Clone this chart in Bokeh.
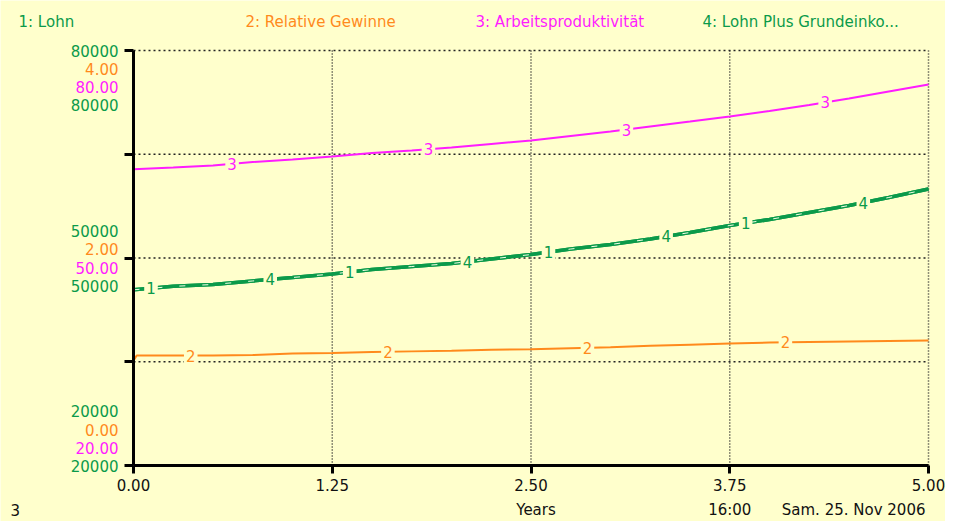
from bokeh.plotting import figure
from bokeh.models import Range1d, FixedTicker, Label
from bokeh.embed import file_html
from bokeh.resources import INLINE
import numpy as np

# ---------------- data ----------------
years = [0.0, 0.25, 0.5, 0.75, 1.0, 1.25, 1.5, 1.75, 2.0, 2.25, 2.5,
         2.75, 3.0, 3.25, 3.5, 3.75, 4.0, 4.25, 4.5, 4.75, 5.0]
lohn = [45400, 45900, 46170, 46680, 47180, 47690, 48340, 48770, 49200, 49860, 50500,
        51300, 51950, 52750, 53690, 54700, 55570, 56580, 57590, 58750, 59980]
years_gewinne = [0.0, 0.02, 0.25, 0.5, 0.75, 1.0, 1.25, 1.5, 1.75, 2.0, 2.25, 2.5,
                 2.75, 3.0, 3.25, 3.5, 3.75, 4.0, 4.25, 4.5, 4.75, 5.0]
relative_gewinne = [1.01, 1.06, 1.06, 1.06, 1.065, 1.08, 1.085, 1.095, 1.10, 1.105, 1.115, 1.12,
                    1.13, 1.14, 1.155, 1.165, 1.175, 1.185, 1.19, 1.195, 1.20, 1.205]
arbeitsproduktivitaet = [62.84, 63.08, 63.37, 63.88, 64.24, 64.67, 65.18, 65.54, 65.97, 66.48, 66.99,
                         67.64, 68.29, 69.01, 69.73, 70.46, 71.25, 72.12, 73.06, 74.07, 75.08]
lohn_plus_grundeinkommen = [45400, 45900, 46170, 46680, 47180, 47690, 48340, 48770, 49200, 49860, 50500,
                            51300, 51950, 52750, 53690, 54700, 55570, 56580, 57590, 58750, 59980]

series_names = ["1: Lohn", "2: Relative Gewinne", "3: Arbeitsproduktivität", "4: Lohn Plus Grundeinko..."]

x_ticks = [0.0, 1.25, 2.5, 3.75, 5.0]
x_tick_labels = ["0.00", "1.25", "2.50", "3.75", "5.00"]
lohn_axis = [20000, 50000, 80000]
gewinne_axis = [0.0, 2.0, 4.0]
produktivitaet_axis = [20.0, 50.0, 80.0]
y_grid = [20000, 35000, 50000, 65000, 80000]

# positions (in years) of the series numbers drawn on each line
label_years_1 = [0.11, 1.36, 2.61, 3.85]
label_years_2 = [0.36, 1.60, 2.855, 4.10]
label_years_3 = [0.62, 1.855, 3.10, 4.35]
label_years_4 = [0.86, 2.10, 3.35, 4.59]

footer_left = "3"
footer_unit = "Years"
footer_time = "16:00"
footer_date = "Sam. 25. Nov 2006"

# ---------------- layout / styles ----------------
W, H = 945, 521
PLOT_L, PLOT_R, PLOT_T, PLOT_B = 133, 928, 50, 465   # plot box inside the canvas (px)
BG = "#FFFFCC"
GREEN = "#0B9A4A"
ORANGE = "#FF8A1C"
MAGENTA = "#FF1CFF"
FONT = "DejaVu Sans"
FS = "15px"

x0, x1 = x_ticks[0], x_ticks[-1]
sx = (x1 - x0) / (PLOT_R - PLOT_L)

def padded(lo, hi):
    s = (hi - lo) / (PLOT_B - PLOT_T)
    return Range1d(lo - (H - PLOT_B) * s, hi + PLOT_T * s)

p = figure(width=W, height=H, output_backend="svg", toolbar_location=None,
           x_range=Range1d(x0 - PLOT_L * sx, x1 + (W - PLOT_R) * sx),
           y_range=padded(lohn_axis[0], lohn_axis[-1]),
           min_border=0)
p.extra_y_ranges = {"gew": padded(gewinne_axis[0], gewinne_axis[-1]),
                    "prod": padded(produktivitaet_axis[0], produktivitaet_axis[-1])}
p.background_fill_color = BG
p.border_fill_color = BG
p.outline_line_color = None
p.xgrid.visible = False
p.ygrid.visible = False

# dotted grid lines, limited to the plot box
ylo, yhi = lohn_axis[0], lohn_axis[-1]
p.segment(x0=x_ticks[1:], y0=[ylo] * 4, x1=x_ticks[1:], y1=[yhi] * 4,
          line_color="#222222", line_width=1.5, line_dash="1 2")
p.segment(x0=[x0] * 4, y0=y_grid[1:], x1=[x1] * 4, y1=y_grid[1:],
          line_color="#222222", line_width=1.5, line_dash="2 3")

# axes drawn at the plot box edges
xa = p.xaxis[0]
xa.fixed_location = ylo
xa.bounds = (x0, x1)
xa.ticker = FixedTicker(ticks=x_ticks)
xa.major_label_overrides = {t: l for t, l in zip(x_ticks, x_tick_labels)}
xa.axis_line_width = 3
xa.major_tick_line_width = 3
xa.major_tick_out = 8
xa.major_tick_in = 0
xa.minor_tick_line_color = None
xa.major_label_standoff = 5
xa.major_label_text_font = FONT
xa.major_label_text_font_size = FS
xa.major_label_text_color = "#111111"

ya = p.yaxis[0]
ya.fixed_location = x0
ya.bounds = (ylo, yhi)
ya.ticker = FixedTicker(ticks=y_grid)
ya.major_label_overrides = {t: "" for t in y_grid}
ya.axis_line_width = 3
ya.major_tick_line_width = 3
ya.major_tick_out = 9
ya.major_tick_in = 0
ya.minor_tick_line_color = None

# lines
p.line(years, lohn, line_color=GREEN, line_width=3.5)
p.line(years, lohn_plus_grundeinkommen, line_color=GREEN, line_width=3.5)
p.line(years, lohn_plus_grundeinkommen, line_color="#F4FFE6", line_width=1, line_dash="6 17")
p.line(years_gewinne, relative_gewinne, y_range_name="gew", line_color=ORANGE, line_width=2)
p.line(years, arbeitsproduktivitaet, y_range_name="prod", line_color=MAGENTA, line_width=2)

# series numbers on the lines
def number_labels(txt, ts, xs, ys, color, rng):
    for t in ts:
        yv = float(np.interp(t, xs, ys))
        p.add_layout(Label(x=t, y=yv, y_range_name=rng, text=txt, text_color=color,
                           text_font=FONT, text_font_size=FS, text_align="center",
                           text_baseline="middle", background_fill_color=BG, padding=2))

number_labels("1", label_years_1, years, lohn, GREEN, "default")
number_labels("2", label_years_2, years_gewinne, relative_gewinne, ORANGE, "gew")
number_labels("3", label_years_3, years, arbeitsproduktivitaet, MAGENTA, "prod")
number_labels("4", label_years_4, years, lohn_plus_grundeinkommen, GREEN, "default")

# stacked multi-colour y tick labels
group_offsets = [[55, 36, 18, 0], [27, 9, -10, -28], [0, -18, -36, -54]]
for i in range(3):
    entries = [(lohn_axis[i], "default", GREEN, "{:.0f}"),
               (gewinne_axis[i], "gew", ORANGE, "{:.2f}"),
               (produktivitaet_axis[i], "prod", MAGENTA, "{:.2f}"),
               (lohn_axis[i], "default", GREEN, "{:.0f}")]
    for (val, rng, col, fmt), off in zip(entries, group_offsets[i]):
        p.add_layout(Label(x=x0, y=val, y_range_name=rng, x_offset=-15, y_offset=off,
                           text=fmt.format(val), text_color=col, text_font=FONT,
                           text_font_size=FS, text_align="right", text_baseline="middle"))

# header (series names)
header_colors = [GREEN, ORANGE, MAGENTA, GREEN]
header_offsets = [-115, 112, 342, 569]
for name, col, off in zip(series_names, header_colors, header_offsets):
    p.add_layout(Label(x=x0, y=yhi, x_offset=off, y_offset=29, text=name,
                       text_color=col, text_font=FONT, text_font_size=FS,
                       text_align="left", text_baseline="middle"))

# footer
footer = [(footer_left, x0, -123, "left"), (footer_unit, 2.5, 5, "center"),
          (footer_time, 3.75, 0, "center"), (footer_date, x1, -3, "right")]
for txt, xv, off, al in footer:
    p.add_layout(Label(x=xv, y=ylo, x_offset=off, y_offset=-44, text=txt,
                       text_color="#111111", text_font=FONT, text_font_size=FS,
                       text_align=al, text_baseline="middle"))

open("out.html", "w").write(file_html(p, INLINE))
